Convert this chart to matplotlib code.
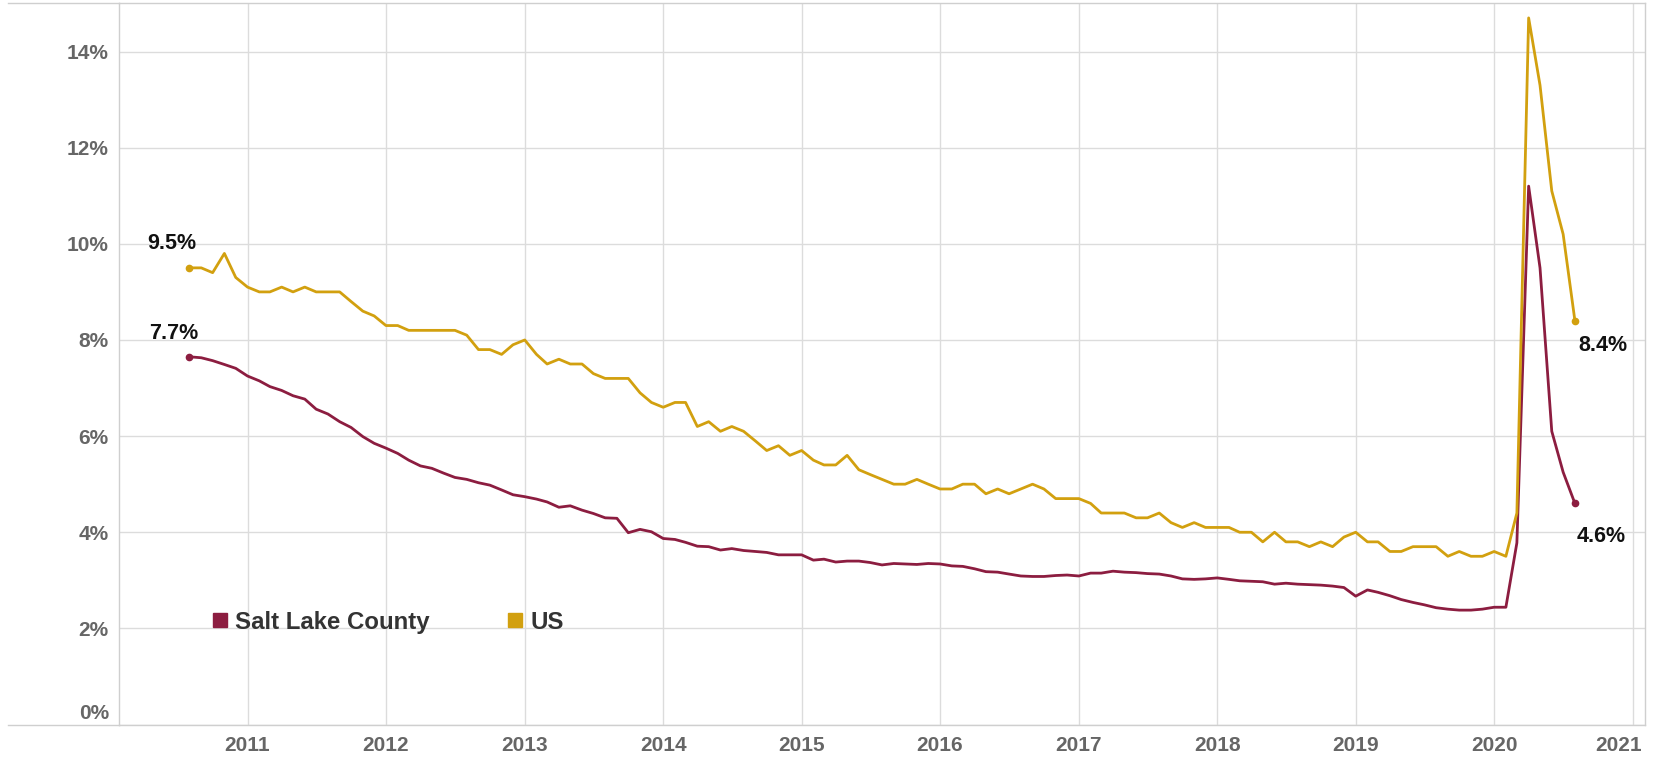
import pandas as pd
import matplotlib
matplotlib.use('Agg')
import matplotlib.pyplot as plt
import matplotlib.dates as mdates
import matplotlib.ticker as ticker
from matplotlib.lines import Line2D
from matplotlib.transforms import ScaledTranslation

plt.rcParams['font.family'] = ['Liberation Sans', 'DejaVu Sans']

# Monthly unemployment rate, Aug 2010 - Aug 2020
start_month = '2010-08-01'

salt_lake = [
    7.65, 7.63, 7.57, 7.49, 7.41,
    7.25, 7.15, 7.03, 6.95, 6.84, 6.77, 6.56, 6.46, 6.30, 6.18, 5.99, 5.85,
    5.75, 5.64, 5.50, 5.38, 5.33, 5.23, 5.14, 5.10, 5.03, 4.98, 4.88, 4.78,
    4.74, 4.69, 4.63, 4.52, 4.55, 4.46, 4.39, 4.30, 4.29, 3.99, 4.06, 4.01,
    3.87, 3.85, 3.79, 3.71, 3.70, 3.63, 3.66, 3.62, 3.60, 3.58, 3.53, 3.53,
    3.53, 3.42, 3.44, 3.38, 3.40, 3.40, 3.37, 3.32, 3.35, 3.34, 3.33, 3.35,
    3.34, 3.30, 3.29, 3.24, 3.18, 3.17, 3.13, 3.09, 3.08, 3.08, 3.10, 3.11,
    3.09, 3.15, 3.15, 3.19, 3.17, 3.16, 3.14, 3.13, 3.09, 3.03, 3.02, 3.03,
    3.05, 3.02, 2.99, 2.98, 2.97, 2.92, 2.94, 2.92, 2.91, 2.90, 2.88, 2.85,
    2.67, 2.80, 2.75, 2.68, 2.60, 2.54, 2.49, 2.43, 2.40, 2.38, 2.38, 2.40,
    2.44, 2.44, 3.78, 11.2, 9.5, 6.1, 5.25, 4.6,
]

us = [
    9.5, 9.5, 9.4, 9.8, 9.3,
    9.1, 9.0, 9.0, 9.1, 9.0, 9.1, 9.0, 9.0, 9.0, 8.8, 8.6, 8.5,
    8.3, 8.3, 8.2, 8.2, 8.2, 8.2, 8.2, 8.1, 7.8, 7.8, 7.7, 7.9,
    8.0, 7.7, 7.5, 7.6, 7.5, 7.5, 7.3, 7.2, 7.2, 7.2, 6.9, 6.7,
    6.6, 6.7, 6.7, 6.2, 6.3, 6.1, 6.2, 6.1, 5.9, 5.7, 5.8, 5.6,
    5.7, 5.5, 5.4, 5.4, 5.6, 5.3, 5.2, 5.1, 5.0, 5.0, 5.1, 5.0,
    4.9, 4.9, 5.0, 5.0, 4.8, 4.9, 4.8, 4.9, 5.0, 4.9, 4.7, 4.7,
    4.7, 4.6, 4.4, 4.4, 4.4, 4.3, 4.3, 4.4, 4.2, 4.1, 4.2, 4.1,
    4.1, 4.1, 4.0, 4.0, 3.8, 4.0, 3.8, 3.8, 3.7, 3.8, 3.7, 3.9,
    4.0, 3.8, 3.8, 3.6, 3.6, 3.7, 3.7, 3.7, 3.5, 3.6, 3.5, 3.5,
    3.6, 3.5, 4.4, 14.7, 13.3, 11.1, 10.2, 8.4,
]

series_names = ['Salt Lake County', 'US']
colors = ['#8C1D40', '#D2A00F']
year_ticks = list(range(2011, 2022))
pct_ticks = list(range(0, 15, 2))

dates = pd.date_range(start_month, periods=len(us), freq='MS')

fig = plt.figure(figsize=(16.56, 7.57), dpi=100)
ax = fig.add_axes([0.0716, 0.0429, 0.9218, 0.9525])

for values, name, color in zip([salt_lake, us], series_names, colors):
    ax.plot(dates, values, color=color, lw=2.0, label=name, solid_joinstyle='round')
    ax.plot([dates[0], dates[-1]], [values[0], values[-1]], 'o', color=color, ms=4.5)

# value labels at the start and end of each line
label_style = dict(textcoords='offset points', ha='center', va='center',
                   fontsize=15.5, fontweight='bold', color='#111111')
ax.annotate(f'{salt_lake[0]:.1f}%', xy=(dates[0], salt_lake[0]), xytext=(-11, 17), **label_style)
ax.annotate(f'{us[0]:.1f}%', xy=(dates[0], us[0]), xytext=(-13, 17.5), **label_style)
ax.annotate(f'{us[-1]:.1f}%', xy=(dates[-1], us[-1]), xytext=(20, -17.5), **label_style)
ax.annotate(f'{salt_lake[-1]:.1f}%', xy=(dates[-1], salt_lake[-1]), xytext=(19, -23.5), **label_style)

ax.set_ylim(0, 15)
ax.set_xlim(pd.Timestamp('2010-01-26'), pd.Timestamp('2021-02-02'))
ax.set_yticks(pct_ticks)
ax.yaxis.set_major_formatter(ticker.FuncFormatter(lambda v, p: f'{v:.0f}%'))
ax.set_xticks([pd.Timestamp(f'{y}-01-01') for y in year_ticks])
ax.xaxis.set_major_formatter(mdates.DateFormatter('%Y'))

ax.grid(True, color='#dcdcdc', lw=1)
ax.set_axisbelow(True)
for side in ['left', 'right', 'top', 'bottom']:
    ax.spines[side].set_color('#cfcfcf')
    ax.spines[side].set_linewidth(1)

ax.tick_params(length=0, labelsize=15, labelcolor='#666666')
ax.tick_params(axis='x', pad=8)
ax.tick_params(axis='y', pad=7)
xlabels = ax.get_xticklabels()
ylabels = ax.get_yticklabels()
for lab in xlabels + ylabels:
    lab.set_fontweight('bold')

# keep the end labels inside the frame, as in the original
ylabels[0].set_va('bottom')
ylabels[0].set_transform(ylabels[0].get_transform() + ScaledTranslation(0, 0.02, fig.dpi_scale_trans))
xlabels[-1].set_ha('right')
xlabels[-1].set_transform(xlabels[-1].get_transform() + ScaledTranslation(0.09, 0, fig.dpi_scale_trans))

# top and bottom rules run out under the y labels
for y in [0.9954, 0.0429]:
    fig.add_artist(Line2D([0.005, 0.0716], [y, y], color='#cfcfcf', lw=1))

handles = [Line2D([], [], marker='s', ls='none', color=c, ms=10) for c in colors]
leg = ax.legend(handles, series_names, ncol=2, loc='center left',
                bbox_to_anchor=(0.0615, 0.142), frameon=False,
                borderpad=0, borderaxespad=0, handlelength=0.6,
                handletextpad=0.35, columnspacing=3.25,
                prop={'size': 17.3, 'weight': 'bold'})
for t in leg.get_texts():
    t.set_color('#333333')

plt.savefig('out.png', dpi=100)
